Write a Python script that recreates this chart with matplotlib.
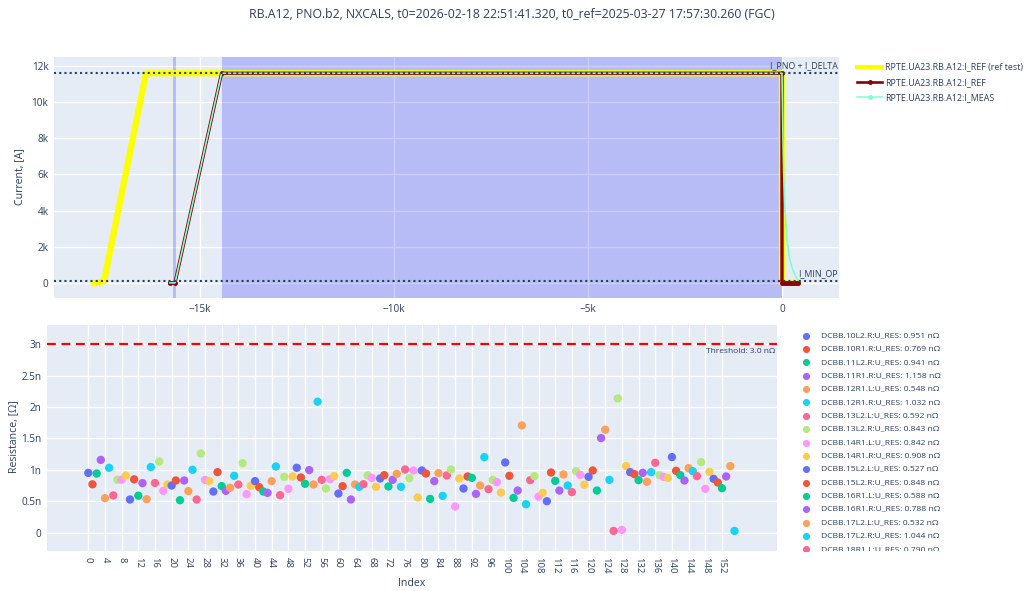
import numpy as np
import matplotlib.pyplot as plt

plt.rcParams['font.family'] = ['Open Sans', 'DejaVu Sans']

W, H = 1024, 591
TXT = '#2a3f5f'
BG = '#E5ECF6'

title = 'RB.A12, PNO.b2, NXCALS, t0=2026-02-18 22:51:41.320, t0_ref=2025-03-27 17:57:30.260 (FGC)'

# current traces (time in ms, current in A)
ref_test_t = [-17750, -17480, -16400, 0, 0, 420]
ref_test_i = [-40, 100, 11600, 11600, 0, 0]

i_ref_t = [-15780, -15650, -14450, 0, 0, 50, 100, 150, 200, 250, 300, 350, 420]
i_ref_i = [0, 0, 11600, 11600, 0, 0, 0, 0, 0, 0, 0, 0, 0]

i_meas_t = [-15780, -15650, -14450, 0, 10, 25, 44, 80, 130, 200, 284, 386, 420]
i_meas_i = [0, 0, 11600, 11600, 10200, 8000, 6000, 3900, 2340, 1300, 680, 220, 150]

i_pno_delta = 11600
i_min_op = 100
plateau_span = (-14450, 0)
marker_span = (-15690, -15620)

trace_names = ['RPTE.UA23.RB.A12:I_REF (ref test)', 'RPTE.UA23.RB.A12:I_REF',
               'RPTE.UA23.RB.A12:I_MEAS']
trace_colors = ['#FFFF00', '#8B0000', '#7FFFD4']

# splice resistances in nOhm
res_values = [
    0.951, 0.769, 0.941, 1.158, 0.548, 1.032, 0.592, 0.843, 0.842, 0.908,
    0.527, 0.848, 0.588, 0.788, 0.532, 1.044, 0.790, 1.133, 0.665, 0.766,
    0.750, 0.830, 0.516, 0.830, 0.660, 1.000, 0.527, 1.260, 0.840, 0.820,
    0.654, 0.963, 0.740, 0.665, 0.713, 0.904, 0.766, 1.106, 0.612, 0.745,
    0.820, 0.723, 0.654, 0.633, 0.820, 1.053, 0.596, 0.888, 0.697, 0.894,
    1.032, 0.878, 0.777, 0.995, 0.766, 2.085, 0.840, 0.702, 0.851, 0.899,
    0.622, 0.739, 0.952, 0.527, 0.766, 0.729, 0.771, 0.910, 0.872, 0.729,
    0.862, 0.915, 0.734, 0.840, 0.936, 0.729, 1.005, 0.867, 0.989, 0.559,
    0.989, 0.941, 0.537, 0.820, 0.947, 0.585, 0.910, 1.005, 0.415, 0.862,
    0.702, 0.894, 0.872, 0.617, 0.750, 1.202, 0.691, 0.840, 0.803, 0.638,
    1.117, 0.904, 0.553, 0.670, 1.707, 0.452, 0.835, 0.899, 0.574, 0.633,
    0.500, 0.957, 0.824, 0.670, 0.926, 0.750, 0.644, 0.979, 0.920, 0.761,
    0.888, 0.989, 0.670, 1.505, 1.638, 0.840, 0.027, 2.138, 0.043, 1.059,
    0.963, 0.931, 0.835, 0.952, 0.809, 0.963, 1.112, 0.915, 0.888, 0.872,
    1.202, 0.984, 0.915, 0.830, 1.027, 0.979, 0.899, 1.122, 0.697, 0.968,
    0.856, 0.798, 0.707, 0.894, 1.059, 0.027,
]
legend_names = ['DCBB.10L2.R', 'DCBB.10R1.R', 'DCBB.11L2.R', 'DCBB.11R1.R', 'DCBB.12R1.L',
                'DCBB.12R1.R', 'DCBB.13L2.L', 'DCBB.13L2.R', 'DCBB.14R1.L', 'DCBB.14R1.R',
                'DCBB.15L2.L', 'DCBB.15L2.R', 'DCBB.16R1.L', 'DCBB.16R1.R', 'DCBB.17L2.L',
                'DCBB.17L2.R', 'DCBB.18R1.L']
threshold = 3.0
palette = ['#636EFA', '#EF553B', '#00CC96', '#AB63FA', '#FFA15A',
           '#19D3F3', '#FF6692', '#B6E880', '#FF97FF', '#FECB52']


def px_axes(left, top, right, bottom):
    return fig.add_axes([left / W, 1 - bottom / H, (right - left) / W, (bottom - top) / H])


def style(ax):
    ax.set_facecolor(BG)
    for s in ax.spines.values():
        s.set_visible(False)
    ax.grid(True, color='white', lw=1)
    ax.set_axisbelow(True)
    ax.tick_params(length=0, labelsize=7.2, colors=TXT, pad=4)


fig = plt.figure(figsize=(W / 100, H / 100), dpi=100)
fig.text(0.5, 1 - 14 / H, title, ha='center', va='center', fontsize=8.8, color=TXT)

# ---- top: currents
ax1 = px_axes(54, 57, 839, 298)
style(ax1)
ax1.set_xlim(-18770, 1470)
ax1.set_ylim(-840, 12500)
ax1.axvspan(*plateau_span, color='blue', alpha=0.2, lw=0, zorder=1.5)
ax1.axvspan(*marker_span, color='blue', alpha=0.2, lw=0, zorder=1.5)
ax1.plot(ref_test_t, ref_test_i, color=trace_colors[0], lw=4.5, zorder=2, solid_capstyle='round')
ax1.plot(i_ref_t, i_ref_i, color=trace_colors[1], lw=2.4, marker='o', ms=2.5, zorder=3)
ax1.plot(i_meas_t, i_meas_i, color=trace_colors[2], lw=1.2, zorder=4)
for lvl in (i_pno_delta, i_min_op):
    ax1.axhline(lvl, color=TXT, lw=1.5, ls=(0, (1, 1.5)), zorder=5)
ax1.annotate('I_PNO + I_DELTA', (1470, i_pno_delta), xytext=(-1, 2), textcoords='offset points',
             ha='right', va='bottom', fontsize=6.4, color=TXT)
ax1.annotate('I_MIN_OP', (1470, i_min_op), xytext=(-1, 2), textcoords='offset points',
             ha='right', va='bottom', fontsize=6.4, color=TXT)
ax1.set_xticks([-15000, -10000, -5000, 0])
ax1.set_xticklabels(['\u221215k', '\u221210k', '\u22125k', '0'])
ax1.set_yticks(range(0, 12001, 2000))
ax1.set_yticklabels(['0'] + [f'{k}k' for k in range(2, 13, 2)])
fig.text(20 / W, 1 - 177 / H, 'Current, [A]', rotation=90, ha='center', va='center',
         fontsize=7.6, color=TXT)

# top legend
lg1 = px_axes(850, 55, 1024, 110)
lg1.set_xlim(850, 1024)
lg1.set_ylim(110, 55)
lg1.axis('off')
rows = [66.7, 82.3, 97.3]
widths = [3.0, 1.9, 1.1]
for name, col, lw, yy in zip(trace_names, trace_colors, widths, rows):
    lg1.plot([857, 882], [yy, yy], color=col, lw=lw)
    lg1.plot([869.5], [yy], 'o', color=col, ms=2.5)
    lg1.text(885, yy, name, va='center', ha='left', fontsize=6.4, color=TXT)

# ---- bottom: resistances
ax2 = px_axes(47, 325, 777, 551)
style(ax2)
idx = np.arange(len(res_values))
ax2.scatter(idx, res_values, s=36, c=[palette[i % 10] for i in idx], lw=0, zorder=3)
ax2.axhline(threshold, color='red', lw=1.6, ls=(0, (4, 2.5)), zorder=4)
ax2.set_xlim(-9.9, 165.2)
ax2.set_ylim(-0.293, 3.306)
ax2.annotate(f'Threshold: {threshold:.1f} n\u03a9', (165.2, threshold), xytext=(-1, -3),
             textcoords='offset points', ha='right', va='top', fontsize=6.0, color=TXT)
ax2.set_xticks(range(0, 153, 4))
ax2.tick_params(axis='x', labelrotation=-90, labelsize=6.8)
ax2.set_yticks([0, 0.5, 1, 1.5, 2, 2.5, 3])
ax2.set_yticklabels(['0', '0.5n', '1n', '1.5n', '2n', '2.5n', '3n'])
fig.text(14 / W, 1 - 437 / H, 'Resistance, [\u03a9]', rotation=90, ha='center', va='center',
         fontsize=7.6, color=TXT)
fig.text(412 / W, 1 - 583 / H, 'Index', ha='center', va='center', fontsize=7.6, color=TXT)

# bottom legend, clipped like a scrolling plotly legend
lg2 = px_axes(795, 328, 1024, 551)
lg2.set_xlim(795, 1024)
lg2.set_ylim(551, 328)
lg2.axis('off')
for k, name in enumerate(legend_names):
    yy = 335.7 + 13.35 * k
    lg2.scatter([805.7], [yy], s=26, color=palette[k % 10], lw=0, clip_on=True)
    lg2.text(820.7, yy, f'{name}:U_RES: {res_values[k]:.3f} n\u03a9', va='center', ha='left',
             fontsize=6.1, color=TXT, clip_on=True)

fig.savefig('out.png', dpi=100)
